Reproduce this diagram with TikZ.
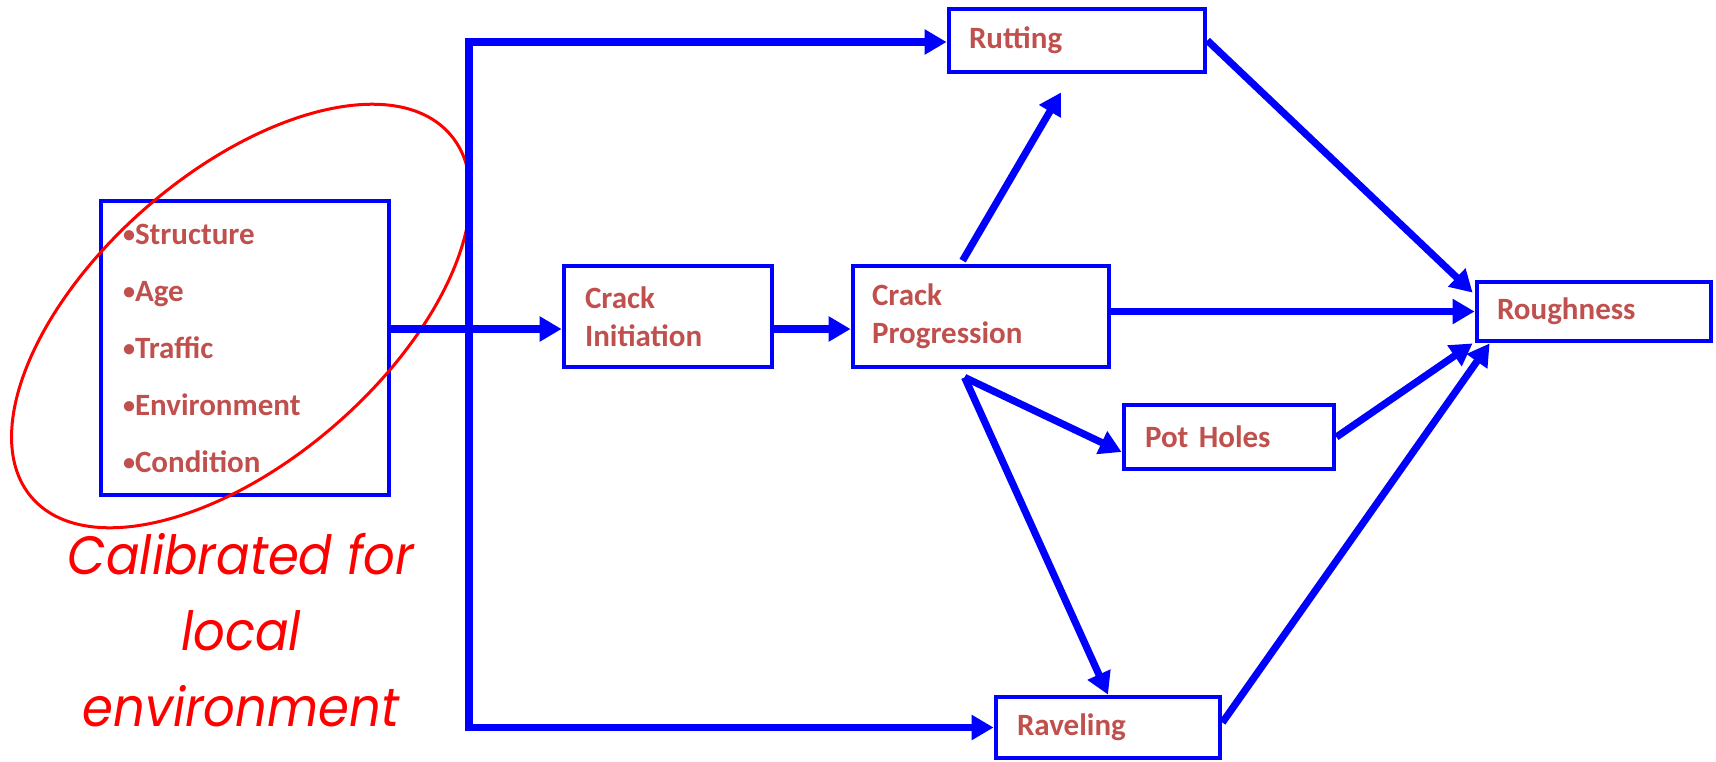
\documentclass[tikz,border=0pt]{standalone}
\usepackage{graphicx}
\usepackage{fontspec}
\setmainfont{Carlito}
\newfontfamily\calfont{Poppins}[FakeStretch=0.92]
\usetikzlibrary{arrows.meta,calc}
\definecolor{boxblue}{RGB}{0,0,255}
\definecolor{txtred}{RGB}{192,80,77}
\definecolor{calred}{RGB}{255,0,0}
\newcommand\bul{\raisebox{0.06em}{\scalebox{0.78}{•}}}
\begin{document}
\begin{tikzpicture}[x=0.5pt,y=-0.5pt,
  box/.style={draw=boxblue, line width=2.4pt, rectangle, inner ysep=0pt, align=left,
    text=txtred, font=\bfseries\fontsize{15.5}{19}\selectfont},
  arr/.style={draw=boxblue, line width=3.6pt, line join=miter, -{Triangle[length=11pt,width=12pt]}},
  bus/.style={draw=boxblue, line width=3.6pt}]
\useasboundingbox (0,0) rectangle (1716,761);

% boxes
\node[box, minimum width=144pt, minimum height=147pt, text width=122pt, inner xsep=11pt,
  font=\bfseries\fontsize{15.5}{28.5}\selectfont] (in) at (245,348)
  {\bul Structure\\\bul Age\\\bul Traffic\\\bul Environment\\\bul Condition};
\node[box, minimum width=104pt, minimum height=50.5pt, text width=83pt, inner xsep=10.5pt] (init) at (668,316.5) {Crack\\Initiation};
\node[box, minimum width=128pt, minimum height=50.5pt, text width=109pt, inner xsep=9.5pt] (prog) at (981,316.5) {Crack\\Progression};
\node[box, minimum width=128pt, minimum height=31.5pt, text width=108pt, inner xsep=10pt] (rut) at (1077,40.5) {Rutting};
\node[box, minimum width=105pt, minimum height=32pt, text width=84pt, inner xsep=10.5pt] (pot) at (1229,437) {Pot Holes};
\node[box, minimum width=112pt, minimum height=30.5pt, text width=91pt, inner xsep=10.5pt] (rav) at (1108,727.5) {Raveling};
\node[box, minimum width=117pt, minimum height=29.5pt, text width=97pt, inner xsep=10pt] (rough) at (1594,311.5) {Roughness};

% calibration ellipse and note
\coordinate (ce) at (241,316);
\draw[calred, line width=1.5pt, rotate around={41:(ce)}] (ce) ellipse [x radius=277, y radius=144];
\node[text=calred, align=center, font=\calfont\itshape\fontsize{27}{38}\selectfont] (note) at (241,630)
  {Calibrated for\\local\\environment};

% connectors
\coordinate (bj) at (469,329);
\draw[bus] (in.east |- bj) -- (bj);
\draw[arr] (bj) -- (init.west |- bj);
\draw[arr] (bj) |- ([yshift=-0.75pt]rut.west);
\draw[arr] (bj) |- (rav.west);
\draw[arr] (init.east |- bj) -- (prog.west |- bj);
\draw[arr] ([xshift=56pt,yshift=1.5pt]prog.north west) -- ([xshift=-8pt,yshift=-9pt]rut.south);
\draw[arr] (prog.east |- rough.west) -- (rough.west);
\draw[arr] ([xshift=57pt,yshift=-4pt]prog.south west) -- ([yshift=-7.5pt]pot.west);
\draw[arr] ([xshift=57pt,yshift=-4pt]prog.south west) -- (rav.north);
\draw[arr] (rut.east) -- ([xshift=-1pt,yshift=-6.5pt]rough.north west);
\draw[arr] (pot.east) -- ([xshift=-1pt]rough.south west);
\draw[arr] ([yshift=2.5pt]rav.east) -- ([xshift=7.5pt]rough.south west);
\end{tikzpicture}
\end{document}
